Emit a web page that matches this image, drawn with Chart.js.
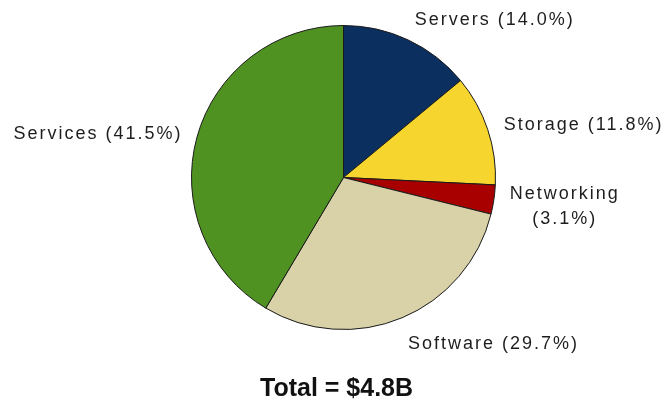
<!DOCTYPE html>
<html>
<head>
<meta charset="utf-8">
<script src="https://cdn.jsdelivr.net/npm/chart.js@4"></script>
<style>
  html, body { margin: 0; padding: 0; background: #ffffff; }
  #wrap { width: 666px; height: 400px; }
</style>
</head>
<body>
<div id="wrap"><canvas id="c" width="666" height="400"></canvas></div>
<script>
const categories = ['Servers', 'Storage', 'Networking', 'Software', 'Services'];
const shares = [14.0, 11.8, 3.1, 29.7, 41.5];
const colors = ['#0b2f5f', '#f6d52e', '#a80000', '#d9d1a8', '#4f9222'];
const titleText = 'Total = $4.8B';

const labelFont = '18px "Liberation Sans", Arial, sans-serif';
const labelColor = '#1e1e1e';

const outsideLabels = {
  id: 'outsideLabels',
  afterDatasetsDraw(chart) {
    const ctx = chart.ctx;
    const meta = chart.getDatasetMeta(0);
    ctx.save();
    ctx.font = labelFont;
    ctx.fillStyle = labelColor;
    ctx.textBaseline = 'middle';
    try { ctx.letterSpacing = '2px'; } catch (e) {}
    meta.data.forEach((arc, i) => {
      const p = arc.getProps(['x', 'y', 'startAngle', 'endAngle', 'outerRadius'], true);
      const mid = (p.startAngle + p.endAngle) / 2;
      const x = p.x + Math.cos(mid) * (p.outerRadius + 18);
      const y = p.y + Math.sin(mid) * (p.outerRadius + 25) + 3;
      const right = Math.cos(mid) >= 0;
      const text = categories[i] + ' (' + shares[i].toFixed(1) + '%)';
      const w = ctx.measureText(text).width;
      if (right && x + w > chart.width) {
        const l1 = categories[i];
        const l2 = '(' + shares[i].toFixed(1) + '%)';
        const w1 = ctx.measureText(l1).width;
        const cxl = x - 2 + w1 / 2;
        ctx.textAlign = 'center';
        ctx.fillText(l1, cxl, y - 12);
        ctx.fillText(l2, cxl, y + 13);
      } else {
        ctx.textAlign = right ? 'left' : 'right';
        ctx.fillText(text, x + (right ? -1 : 3), y);
      }
    });
    ctx.restore();
  }
};

const bottomTitle = {
  id: 'bottomTitle',
  afterDraw(chart) {
    const ctx = chart.ctx;
    ctx.save();
    ctx.font = 'bold 25px "Liberation Sans", Arial, sans-serif';
    ctx.fillStyle = '#111111';
    ctx.textAlign = 'center';
    ctx.textBaseline = 'middle';
    const ca = chart.chartArea;
    ctx.fillText(titleText, (ca.left + ca.right) / 2 - 7, ca.bottom + 59);
    ctx.restore();
  }
};

new Chart(document.getElementById('c'), {
  type: 'pie',
  data: {
    labels: categories,
    datasets: [{
      data: shares,
      backgroundColor: colors,
      borderColor: '#1a1a1a',
      borderWidth: 1,
      hoverOffset: 0
    }]
  },
  options: {
    responsive: false,
    animation: false,
    devicePixelRatio: 1,
    layout: { padding: { left: 191, right: 170, top: 25, bottom: 70 } },
    plugins: {
      legend: { display: false },
      tooltip: { enabled: false },
      title: { display: false }
    }
  },
  plugins: [outsideLabels, bottomTitle]
});
</script>
</body>
</html>
